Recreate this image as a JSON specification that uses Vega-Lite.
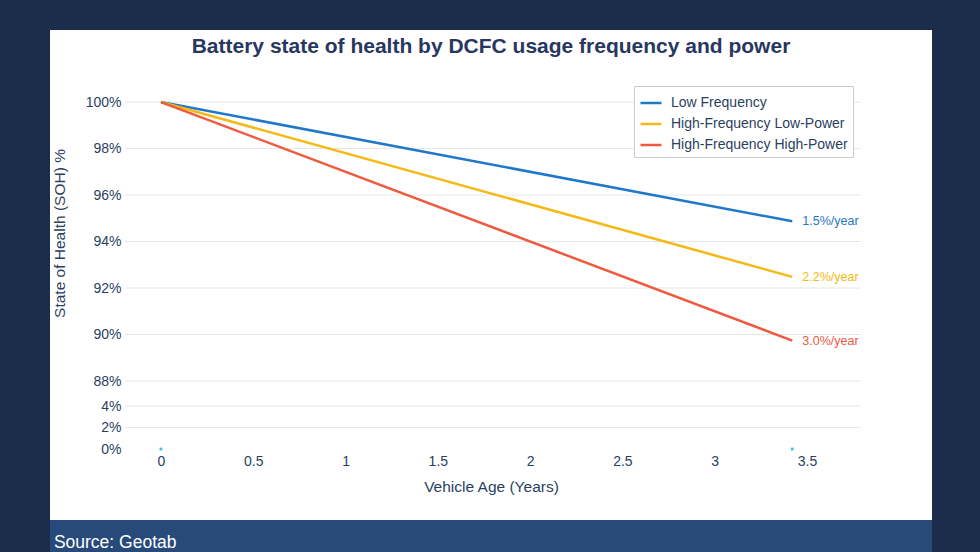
{
  "$schema": "https://vega.github.io/schema/vega-lite/v6.json",
  "background": "#1c2d4b",
  "padding": {"left": 50, "top": 30, "right": 48, "bottom": 0},
  "spacing": 0,
  "config": {"font": "Liberation Sans", "view": {"stroke": null}},
  "datasets": {
    "soh": [
      {"series": "Low Frequency", "age": 0, "soh": 100, "label": null},
      {"series": "Low Frequency", "age": 3.42, "soh": 94.87, "label": "1.5%/year"},
      {"series": "High-Frequency Low-Power", "age": 0, "soh": 100, "label": null},
      {"series": "High-Frequency Low-Power", "age": 3.42, "soh": 92.48, "label": "2.2%/year"},
      {"series": "High-Frequency High-Power", "age": 0, "soh": 100, "label": null},
      {"series": "High-Frequency High-Power", "age": 3.42, "soh": 89.74, "label": "3.0%/year"}
    ],
    "grid": [
      {"soh": 2}, {"soh": 4}, {"soh": 88}, {"soh": 90}, {"soh": 92},
      {"soh": 94}, {"soh": 96}, {"soh": 98}, {"soh": 100}
    ],
    "markers": [
      {"age": 0, "soh": 0},
      {"age": 3.42, "soh": 0}
    ]
  },
  "vconcat": [
    {
      "width": 882,
      "height": 490,
      "view": {"fill": "white", "stroke": null},
      "layer": [
        {
          "data": {"name": "grid"},
          "mark": {"type": "rule", "color": "#e6e6e6", "strokeWidth": 1},
          "encoding": {
            "y": {"field": "soh", "type": "quantitative"},
            "x": {"datum": -0.195, "type": "quantitative"},
            "x2": {"datum": 3.79}
          }
        },
        {
          "data": {"name": "soh"},
          "mark": {"type": "line", "strokeWidth": 2.5},
          "encoding": {
            "x": {
              "field": "age",
              "type": "quantitative",
              "scale": {"domain": [-0.601, 4.177], "nice": false, "zero": false},
              "axis": {
                "values": [0, 0.5, 1, 1.5, 2, 2.5, 3, 3.5],
                "format": "~g",
                "grid": false,
                "domain": false,
                "ticks": false,
                "tickSize": 0,
                "labelPadding": 4,
                "offset": -70,
                "labelFontSize": 14,
                "labelColor": "#2a3f5f",
                "title": "Vehicle Age (Years)",
                "titleFontSize": 15.5,
                "titleFontWeight": "normal",
                "titleColor": "#2a3f5f",
                "titlePadding": 11
              }
            },
            "y": {
              "field": "soh",
              "type": "quantitative",
              "scale": {"domain": [-6.6, 4, 88, 103.1], "range": [490, 376, 351, 0], "nice": false, "zero": false},
              "axis": {
                "values": [0, 2, 4, 88, 90, 92, 94, 96, 98, 100],
                "labelExpr": "datum.value + '%'",
                "grid": false,
                "domain": false,
                "ticks": false,
                "tickSize": 0,
                "labelPadding": 4,
                "offset": -75,
                "labelFontSize": 14,
                "labelColor": "#2a3f5f",
                "labelBaseline": "middle",
                "title": "State of Health (SOH) %",
                "titleFontSize": 15.5,
                "titleFontWeight": "normal",
                "titleColor": "#2a3f5f",
                "titleAngle": -90,
                "titleAlign": "center",
                "titleBaseline": "middle",
                "titleX": -66,
                "titleY": 203
              }
            },
            "color": {
              "field": "series",
              "type": "nominal",
              "scale": {
                "domain": ["Low Frequency", "High-Frequency Low-Power", "High-Frequency High-Power"],
                "range": ["#1f78c8", "#f5b915", "#ee5a3f"]
              },
              "legend": {
                "title": null,
                "orient": "none",
                "legendX": 584,
                "legendY": 56,
                "symbolType": "stroke",
                "symbolSize": 441,
                "symbolStrokeWidth": 2.5,
                "labelFontSize": 14,
                "labelOffset": 8,
                "labelColor": "#2a3f5f",
                "labelLimit": 300,
                "strokeColor": "#cccccc",
                "fillColor": "white",
                "padding": 5,
                "rowPadding": 2
              }
            }
          }
        },
        {
          "data": {"name": "soh"},
          "transform": [{"filter": "datum.label != null"}],
          "mark": {"type": "text", "align": "left", "baseline": "middle", "dx": 10, "fontSize": 12.5},
          "encoding": {
            "x": {"field": "age", "type": "quantitative"},
            "y": {"field": "soh", "type": "quantitative"},
            "text": {"field": "label"},
            "color": {"field": "series", "type": "nominal", "legend": null}
          }
        },
        {
          "data": {"name": "markers"},
          "mark": {"type": "point", "filled": true, "shape": "square", "size": 8, "color": "#3fc1e8", "opacity": 1},
          "encoding": {
            "x": {"field": "age", "type": "quantitative"},
            "y": {"field": "soh", "type": "quantitative"}
          }
        },
        {
          "data": {"values": [{"title": "Battery state of health by DCFC usage frequency and power"}]},
          "mark": {"type": "text", "align": "center", "baseline": "middle", "fontSize": 21, "fontWeight": "bold", "color": "#27375f"},
          "encoding": {
            "x": {"datum": 1.788, "type": "quantitative"},
            "y": {"datum": 102.37, "type": "quantitative"},
            "text": {"field": "title"}
          }
        }
      ]
    },
    {
      "width": 882,
      "height": 32,
      "view": {"fill": "#284a7b", "stroke": null},
      "data": {"values": [{"source": "Source: Geotab"}]},
      "mark": {"type": "text", "align": "left", "baseline": "middle", "dy": 7, "fontSize": 17.5, "color": "white"},
      "encoding": {
        "x": {
          "datum": -0.58,
          "type": "quantitative",
          "scale": {"domain": [-0.601, 4.177], "nice": false, "zero": false},
          "axis": null
        },
        "text": {"field": "source"}
      }
    }
  ]
}
